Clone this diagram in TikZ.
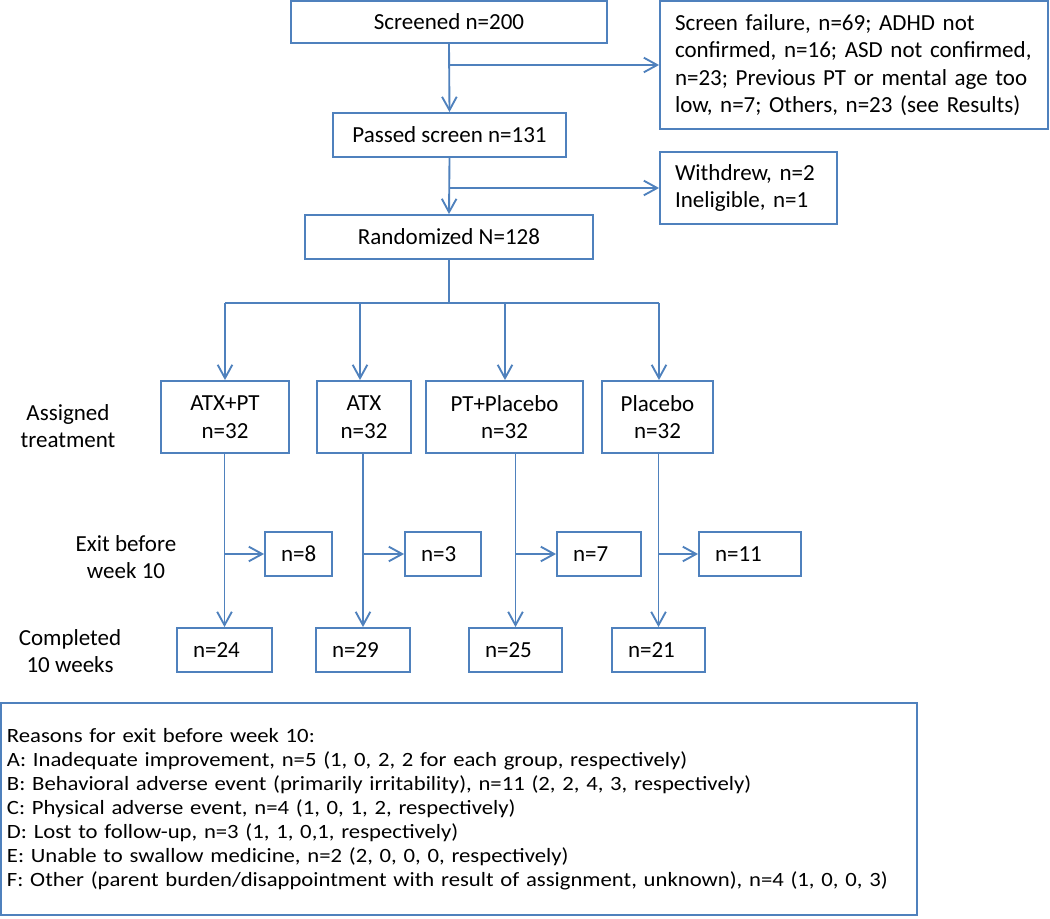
\documentclass[tikz,border=0pt]{standalone}
\usepackage{fontspec}
\setmainfont{Carlito}
\newfontfamily\widefont[FakeStretch=1.12]{Carlito}
\usetikzlibrary{arrows.meta,calc}
\definecolor{bl}{RGB}{79,129,189}
\begin{document}
\begin{tikzpicture}[x=0.75pt,y=-0.75pt,
  box/.style={draw=bl, line width=1.4pt, inner sep=0pt, font=\fontsize{17.25pt}{20.6pt}\selectfont, align=center},
  lbox/.style={box, align=left, inner xsep=12pt},
  lab/.style={font=\fontsize{17.25pt}{20.6pt}\selectfont, align=center, inner sep=0pt},
  arr/.style={draw=bl, line width=1.4pt, -{Straight Barb[length=10pt,width=11pt]}},
  ln/.style={draw=bl, line width=1.4pt}]
\useasboundingbox (0,0) rectangle (1050,919);
% top chain
\node[box, minimum width=237pt, minimum height=31.5pt] (screened) at (449,22) {Screened n=200};
\node[box, align=left, inner xsep=11.25pt, text width=268.5pt, minimum width=291pt, minimum height=96pt] (sf) at (854,65)
  {Screen failure, n=69; ADHD not\\confirmed, n=16; ASD not confirmed,\\n=23; Previous PT or mental age too\\low, n=7; Others, n=23 (see Results)};
\node[box, minimum width=174.75pt, minimum height=33pt] (passed) at (449.5,135) {Passed screen n=131};
\node[box, align=left, inner xsep=11.25pt, text width=110.25pt, minimum width=132.75pt, minimum height=54pt] (wd) at (748.5,188)
  {Withdrew, n=2\\Ineligible, n=1};
\node[box, minimum width=216pt, minimum height=33pt] (rand) at (449,237) {Randomized N=128};
% assigned
\node[box, minimum width=96pt, minimum height=54pt] (a1) at (225,417) {ATX+PT\\n=32};
\node[box, minimum width=70.5pt, minimum height=54pt] (a2) at (364,417) {ATX\\n=32};
\node[box, minimum width=117.75pt, minimum height=54pt] (a3) at (504.5,417) {PT+Placebo\\n=32};
\node[box, minimum width=83.25pt, minimum height=54pt] (a4) at (657.5,417) {Placebo\\n=32};
% exit
\node[lbox, text width=26.25pt, minimum width=50.25pt, minimum height=33pt] (e1) at (298.5,554) {n=8};
\node[lbox, text width=33pt, minimum width=57pt, minimum height=33pt] (e2) at (443,554) {n=3};
\node[lbox, text width=39pt, minimum width=63pt, minimum height=33pt] (e3) at (599,554) {n=7};
\node[lbox, text width=52.5pt, minimum width=76.5pt, minimum height=33pt] (e4) at (750,554) {n=11};
% completed
\node[lbox, text width=47.25pt, minimum width=71.25pt, minimum height=33pt] (c1) at (224.5,650) {n=24};
\node[lbox, text width=46.5pt, minimum width=70.5pt, minimum height=33pt] (c2) at (363,650) {n=29};
\node[lbox, text width=45.75pt, minimum width=69.75pt, minimum height=33pt] (c3) at (515.5,650) {n=25};
\node[lbox, text width=45.75pt, minimum width=69.75pt, minimum height=33pt] (c4) at (658.5,650) {n=21};
% row labels
\node[lab] (lassigned) at (68,426) {Assigned\\treatment};
\node[lab] (lexit) at (126,557) {Exit before\\week 10};
\node[lab] (lcomp) at (70,651) {Completed\\10 weeks};
% reasons
\node[box, align=left, inner xsep=4.5pt, text width=678pt, minimum width=687pt, minimum height=159pt,
  font=\widefont\fontsize{15.2pt}{18pt}\selectfont] (reasons) at (459,809)
  {Reasons for exit before week 10:\\
   A: Inadequate improvement, n=5 (1, 0, 2, 2 for each group, respectively)\\
   B: Behavioral adverse event (primarily irritability), n=11 (2, 2, 4, 3, respectively)\\
   C: Physical adverse event, n=4 (1, 0, 1, 2, respectively)\\
   D: Lost to follow-up, n=3 (1, 1, 0,1, respectively)\\
   E: Unable to swallow medicine, n=2 (2, 0, 0, 0, respectively)\\
   F: Other (parent burden/disappointment with result of assignment, unknown), n=4 (1, 0, 0, 3)};
% connectors top
\draw[arr] (screened.south) -- (passed.north);
\draw[arr] (screened.south |- sf.west) -- (sf.west);
\draw[arr] (passed.south) -- (rand.north);
\draw[arr] (passed.south |- wd.west) -- (wd.west);
% bus
\coordinate (bj) at (449,303);
\coordinate (b1) at (225,303);
\coordinate (b2) at (360,303);
\coordinate (b3) at (505,303);
\coordinate (b4) at (659,303);
\draw[ln] (rand.south) -- (bj);
\draw[ln] (b1) -- (b4);
\draw[arr] (b1) -- (b1 |- a1.north);
\draw[arr] (b2) -- (b2 |- a2.north);
\draw[arr] (b3) -- (b3 |- a3.north);
\draw[arr] (b4) -- (b4 |- a4.north);
% lower columns
\draw[arr] (c1.north |- a1.south) -- (c1.north);
\draw[arr] (c2.north |- a2.south) -- (c2.north);
\draw[arr] (c3.north |- a3.south) -- (c3.north);
\draw[arr] (c4.north |- a4.south) -- (c4.north);
\draw[arr] (c1.north |- e1.west) -- (e1.west);
\draw[arr] (c2.north |- e2.west) -- (e2.west);
\draw[arr] (c3.north |- e3.west) -- (e3.west);
\draw[arr] (c4.north |- e4.west) -- (e4.west);
\end{tikzpicture}
\end{document}
